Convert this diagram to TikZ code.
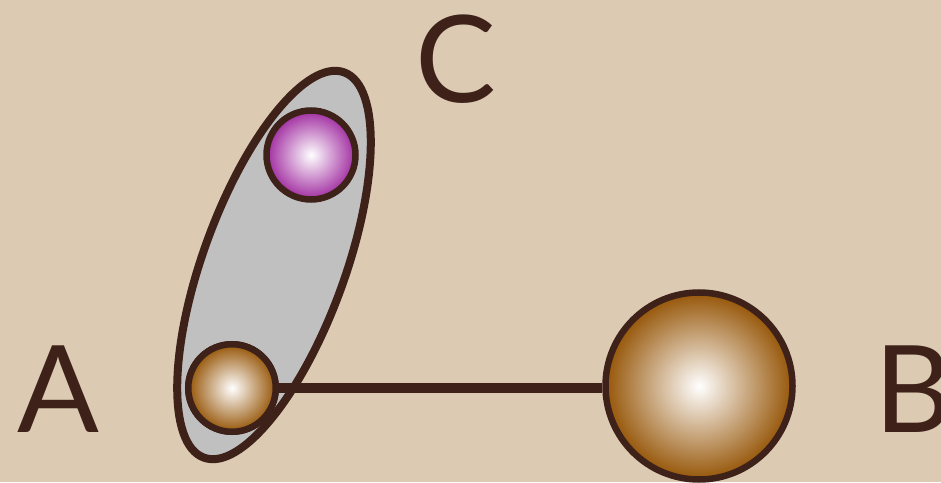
\documentclass[tikz,border=0pt]{standalone}
\usepackage{fontspec}
\setmainfont{Lato}
\usetikzlibrary{shapes.geometric}
\definecolor{bgtan}{HTML}{DCCAB2}
\definecolor{ink}{HTML}{3E2219}
\definecolor{capsule}{HTML}{C0C0C0}
\definecolor{brownball}{HTML}{965608}
\definecolor{purpleball}{HTML}{A02CA0}
\tikzset{
  ball/.style={circle, draw=ink, line width=6.5pt, inner sep=0pt, shading=radial, inner color=white},
  letter/.style={text=ink, inner sep=0pt, font=\fontsize{121}{121}\selectfont},
}
\begin{document}
\begin{tikzpicture}[x=1pt,y=1pt]
\fill[bgtan] (0,0) rectangle (941,482);
\useasboundingbox (0,0) rectangle (941,482);
\node[ellipse, draw=ink, fill=capsule, line width=8pt, inner sep=0pt,
      minimum width=410pt, minimum height=142pt, rotate=70] (cap) at (274,217) {};
\node[ball, outer color=brownball, minimum size=87.5pt] (a) at (232,94) {};
\node[ball, outer color=brownball, minimum size=187pt] (b) at (699,96) {};
\node[ball, outer color=purpleball, minimum size=89pt] (c) at (311,327) {};
\draw[ink, line width=10pt] (a.east) -- (b.west |- a.east);
\node[ball, outer color=brownball, minimum size=87.5pt] at (a) {};
\node[letter, anchor=base] (la) at (58,50) {A};
\node[letter, anchor=base west] (lb) at (874,50) {B};
\node[letter, anchor=base] (lc) at (456,379) {C};
\end{tikzpicture}
\end{document}
